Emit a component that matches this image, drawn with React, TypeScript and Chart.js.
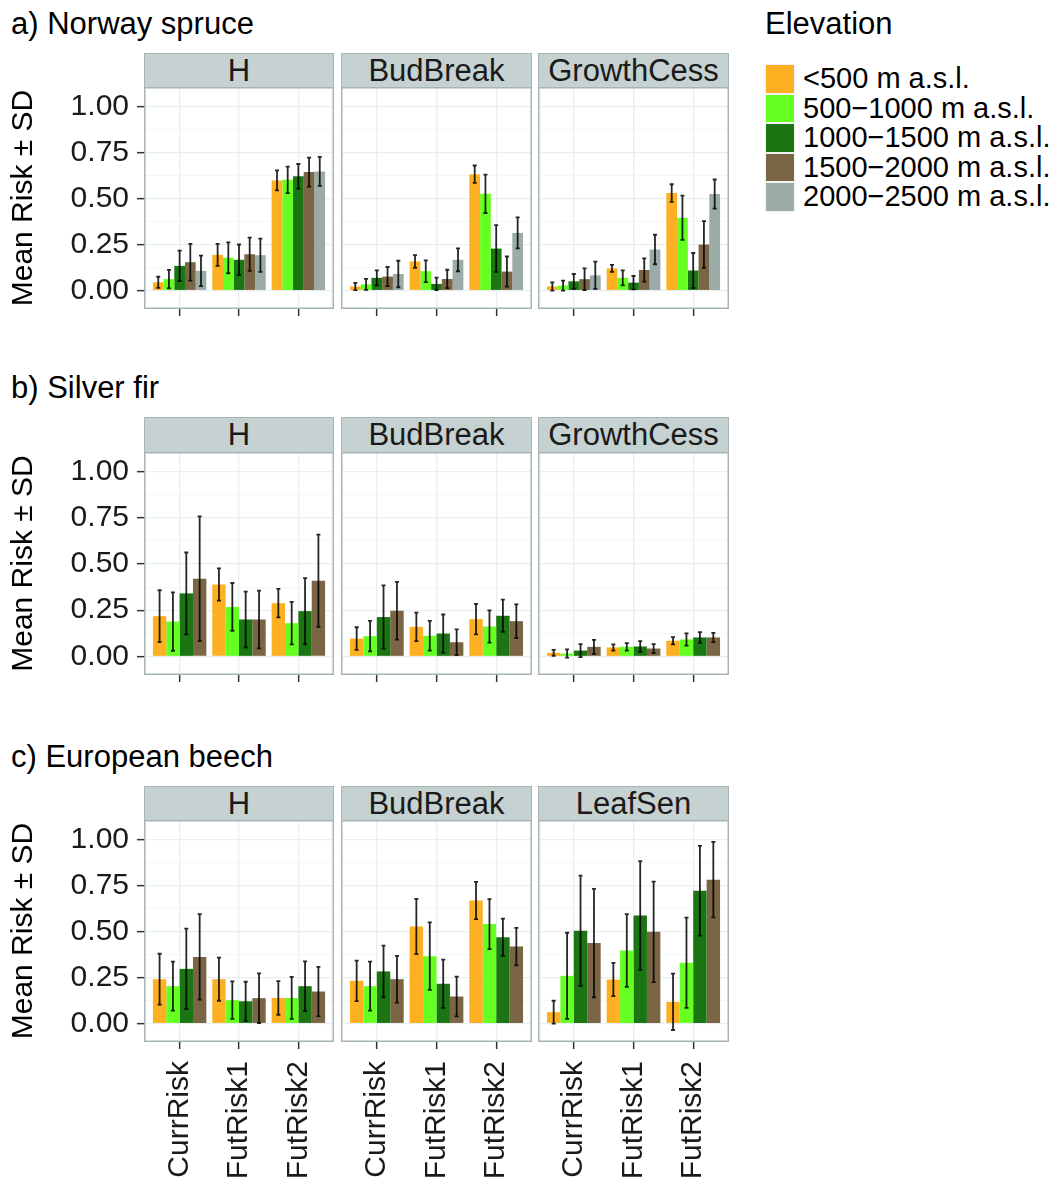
import React, { useEffect, useRef } from 'react';
import { Chart, registerables } from 'chart.js';

Chart.register(...registerables);

// ---------- data ----------
const periods = ['CurrRisk', 'FutRisk1', 'FutRisk2'];
const elevations = ['<500 m a.s.l.', '500\u22121000 m a.s.l.', '1000\u22121500 m a.s.l.', '1500\u22122000 m a.s.l.', '2000\u22122500 m a.s.l.'];
const elevationColors = ['#FDB022', '#66FF22', '#1A7512', '#7A6645', '#9AABA8'];
const yTickValues = [0, 0.125, 0.25, 0.375, 0.5, 0.625, 0.75, 0.875, 1];
const xTickValues = [1, 2, 3];

// rows = elevation class, columns = period (CurrRisk, FutRisk1, FutRisk2)
const spruceH_mean = [
  [0.045, 0.194, 0.598],
  [0.062, 0.178, 0.601],
  [0.134, 0.167, 0.620],
  [0.154, 0.197, 0.643],
  [0.107, 0.192, 0.647],
];
const spruceH_sd = [
  [0.030, 0.060, 0.054],
  [0.050, 0.084, 0.072],
  [0.083, 0.083, 0.067],
  [0.100, 0.090, 0.079],
  [0.083, 0.090, 0.079],
];
const spruceBud_mean = [
  [0.022, 0.158, 0.632],
  [0.034, 0.105, 0.525],
  [0.069, 0.036, 0.228],
  [0.076, 0.063, 0.103],
  [0.090, 0.167, 0.313],
];
const spruceBud_sd = [
  [0.020, 0.034, 0.047],
  [0.030, 0.059, 0.104],
  [0.041, 0.034, 0.127],
  [0.052, 0.050, 0.082],
  [0.072, 0.062, 0.084],
];
const spruceGC_mean = [
  [0.022, 0.120, 0.529],
  [0.027, 0.069, 0.395],
  [0.050, 0.043, 0.109],
  [0.062, 0.112, 0.250],
  [0.083, 0.223, 0.524],
];
const spruceGC_sd = [
  [0.022, 0.019, 0.048],
  [0.027, 0.041, 0.120],
  [0.040, 0.036, 0.095],
  [0.059, 0.063, 0.127],
  [0.074, 0.080, 0.079],
];
const firH_mean = [
  [0.218, 0.389, 0.288],
  [0.189, 0.268, 0.180],
  [0.341, 0.200, 0.245],
  [0.420, 0.200, 0.409],
];
const firH_sd = [
  [0.140, 0.087, 0.077],
  [0.158, 0.129, 0.115],
  [0.221, 0.151, 0.179],
  [0.337, 0.156, 0.249],
];
const firBud_mean = [
  [0.097, 0.160, 0.202],
  [0.110, 0.112, 0.162],
  [0.213, 0.124, 0.220],
  [0.247, 0.077, 0.191],
];
const firBud_sd = [
  [0.061, 0.077, 0.082],
  [0.082, 0.080, 0.087],
  [0.171, 0.103, 0.087],
  [0.156, 0.070, 0.091],
];
const firGC_mean = [
  [0.020, 0.049, 0.085],
  [0.016, 0.052, 0.092],
  [0.032, 0.054, 0.103],
  [0.052, 0.043, 0.103],
];
const firGC_sd = [
  [0.016, 0.017, 0.020],
  [0.022, 0.020, 0.033],
  [0.035, 0.029, 0.029],
  [0.038, 0.024, 0.025],
];
const beechH_mean = [
  [0.241, 0.241, 0.139],
  [0.203, 0.127, 0.139],
  [0.297, 0.121, 0.203],
  [0.362, 0.138, 0.174],
];
const beechH_sd = [
  [0.138, 0.117, 0.091],
  [0.133, 0.102, 0.114],
  [0.218, 0.106, 0.135],
  [0.232, 0.135, 0.134],
];
const beechBud_mean = [
  [0.232, 0.527, 0.668],
  [0.203, 0.366, 0.540],
  [0.283, 0.216, 0.469],
  [0.241, 0.147, 0.418],
];
const beechBud_sd = [
  [0.110, 0.150, 0.101],
  [0.133, 0.183, 0.136],
  [0.140, 0.131, 0.101],
  [0.127, 0.108, 0.102],
];
const beechLS_mean = [
  [0.062, 0.239, 0.118],
  [0.259, 0.397, 0.330],
  [0.504, 0.587, 0.721],
  [0.437, 0.498, 0.781],
];
const beechLS_sd = [
  [0.062, 0.090, 0.153],
  [0.234, 0.197, 0.245],
  [0.299, 0.295, 0.244],
  [0.294, 0.273, 0.205],
];

// ---------- layout / style ----------
const FONT = '"Liberation Sans", Arial, Helvetica, sans-serif';
const Y_MIN = -0.1;
const Y_MAX = 1.105;
const X_MIN = 0.4;
const X_MAX = 3.6;
const GRID_MAJOR = '#E9EEEE';
const GRID_MINOR = '#F3F6F6';
const BORDER = '#A6B4B4';
const STRIP_BG = '#C6D1D1';
const colLefts = [144, 341, 538];
const colWidths = [190, 191, 191];

const rows = [
  { title: 'a) Norway spruce', titleTop: 8, stripTop: 53, plotTop: 87, plotBottom: 309, xAxisH: 12, xLabels: false,
    panels: [
      { strip: 'H', mean: spruceH_mean, sd: spruceH_sd },
      { strip: 'BudBreak', mean: spruceBud_mean, sd: spruceBud_sd },
      { strip: 'GrowthCess', mean: spruceGC_mean, sd: spruceGC_sd },
    ] },
  { title: 'b) Silver fir', titleTop: 372, stripTop: 417, plotTop: 452, plotBottom: 675, xAxisH: 12, xLabels: false,
    panels: [
      { strip: 'H', mean: firH_mean, sd: firH_sd },
      { strip: 'BudBreak', mean: firBud_mean, sd: firBud_sd },
      { strip: 'GrowthCess', mean: firGC_mean, sd: firGC_sd },
    ] },
  { title: 'c) European beech', titleTop: 741, stripTop: 786, plotTop: 820, plotBottom: 1042, xAxisH: 143, xLabels: true,
    panels: [
      { strip: 'H', mean: beechH_mean, sd: beechH_sd },
      { strip: 'BudBreak', mean: beechBud_mean, sd: beechBud_sd },
      { strip: 'LeafSen', mean: beechLS_mean, sd: beechLS_sd },
    ] },
];

const isMajor = (v: number) => Math.round(v * 8) % 2 === 0;

const errorBarPlugin = {
  id: 'errorBars',
  afterDatasetsDraw(chart: any) {
    const { ctx } = chart;
    const yScale = chart.scales.y;
    ctx.save();
    ctx.strokeStyle = 'rgba(0,0,0,0.85)';
    ctx.lineWidth = 1.8;
    chart.data.datasets.forEach((ds: any, i: number) => {
      const meta = chart.getDatasetMeta(i);
      meta.data.forEach((bar: any, j: number) => {
        const m = ds.data[j].y;
        const s = ds.sd[j];
        const y1 = yScale.getPixelForValue(m - s);
        const y2 = yScale.getPixelForValue(m + s);
        const x = bar.x;
        ctx.beginPath();
        ctx.moveTo(x, y1);
        ctx.lineTo(x, y2);
        ctx.moveTo(x - 2, y1);
        ctx.lineTo(x + 2, y1);
        ctx.moveTo(x - 2, y2);
        ctx.lineTo(x + 2, y2);
        ctx.stroke();
      });
    });
    ctx.restore();
  },
};

const borderPlugin = {
  id: 'panelBorder',
  afterDraw(chart: any) {
    const { ctx, chartArea } = chart;
    ctx.save();
    ctx.strokeStyle = BORDER;
    ctx.lineWidth = 1.5;
    ctx.strokeRect(chartArea.left + 0.75, chartArea.top + 0.75, chartArea.width - 1.5, chartArea.height - 1.5);
    ctx.restore();
  },
};

type PanelProps = {
  left: number; top: number; width: number; height: number;
  yAxisW: number; xAxisH: number; showY: boolean; showXLabels: boolean;
  mean: number[][]; sd: number[][];
};

function Panel(p: PanelProps) {
  const ref = useRef<HTMLCanvasElement>(null);
  useEffect(() => {
    if (!ref.current) return;
    const datasets = p.mean.map((m, i) => ({
      label: elevations[i],
      data: m.map((v, j) => ({ x: xTickValues[j], y: v })),
      sd: p.sd[i],
      backgroundColor: elevationColors[i],
      borderWidth: 0,
      categoryPercentage: 0.9,
      barPercentage: 1,
    }));
    const chart = new Chart(ref.current, {
      type: 'bar',
      data: { datasets } as any,
      plugins: [errorBarPlugin, borderPlugin],
      options: {
        responsive: false,
        animation: false,
        layout: { padding: 0, autoPadding: false },
        plugins: { legend: { display: false }, tooltip: { enabled: false } },
        scales: {
          x: {
            type: 'linear',
            min: X_MIN,
            max: X_MAX,
            offset: false,
            afterBuildTicks: (a: any) => { a.ticks = xTickValues.map((v) => ({ value: v })); },
            afterFit: (s: any) => { s.height = p.xAxisH; s.paddingLeft = 0; s.paddingRight = 0; },
            grid: { offset: false, color: GRID_MAJOR, lineWidth: 1.3, drawTicks: true, tickLength: 7, tickColor: '#333333', tickWidth: 1.5 },
            border: { display: false },
            ticks: {
              autoSkip: false,
              minRotation: 90,
              maxRotation: 90,
              padding: 12,
              color: '#1a1a1a',
              font: { family: FONT, size: 30 },
              callback: (v: any) => (p.showXLabels ? periods[Math.round(Number(v)) - 1] : ''),
            },
          },
          y: {
            type: 'linear',
            min: Y_MIN,
            max: Y_MAX,
            afterBuildTicks: (a: any) => { a.ticks = yTickValues.map((v) => ({ value: v })); },
            afterFit: (s: any) => { s.width = p.yAxisW; s.paddingTop = 0; s.paddingBottom = 0; },
            grid: {
              color: (c: any) => (isMajor(c.tick.value) ? GRID_MAJOR : GRID_MINOR),
              lineWidth: (c: any) => (isMajor(c.tick.value) ? 1.3 : 0.9),
              drawTicks: p.showY,
              tickLength: 7,
              tickColor: (c: any) => (isMajor(c.tick.value) ? '#333333' : 'rgba(0,0,0,0)'),
              tickWidth: 1.5,
            },
            border: { display: false },
            ticks: {
              display: p.showY,
              autoSkip: false,
              padding: 8,
              color: '#1a1a1a',
              font: { family: FONT, size: 30 },
              callback: (v: any) => (isMajor(Number(v)) ? Number(v).toFixed(2) : ''),
            },
            title: {
              display: p.showY,
              text: 'Mean Risk \u00B1 SD',
              color: '#000000',
              font: { family: FONT, size: 30 },
              padding: { top: 6, bottom: 0 },
            },
          },
        },
      } as any,
    });
    return () => chart.destroy();
  }, []);
  return (
    <canvas
      ref={ref}
      width={p.width + p.yAxisW}
      height={p.height + p.xAxisH}
      style={{ position: 'absolute', left: p.left - p.yAxisW, top: p.top, width: p.width + p.yAxisW, height: p.height + p.xAxisH }}
    />
  );
}

export default function App() {
  return (
    <div style={{ position: 'absolute', left: 0, top: 0, width: 1060, height: 1185, background: '#ffffff', fontFamily: FONT, overflow: 'hidden' }}>
      {rows.map((r, ri) => (
        <React.Fragment key={ri}>
          <div style={{ position: 'absolute', left: 11, top: r.titleTop, fontSize: 31, lineHeight: '31px', color: '#000', whiteSpace: 'nowrap' }}>{r.title}</div>
          {r.panels.map((pn, ci) => (
            <React.Fragment key={ci}>
              <div style={{
                position: 'absolute', left: colLefts[ci], top: r.stripTop, width: colWidths[ci], height: r.plotTop - r.stripTop + 1,
                boxSizing: 'border-box', background: STRIP_BG, border: `1.5px solid ${BORDER}`,
                fontSize: 31, lineHeight: `${r.plotTop - r.stripTop - 1}px`, textAlign: 'center', color: '#1a1a1a', whiteSpace: 'nowrap',
              }}>{pn.strip}</div>
              <Panel
                left={colLefts[ci]}
                top={r.plotTop}
                width={colWidths[ci]}
                height={r.plotBottom - r.plotTop}
                yAxisW={ci === 0 ? colLefts[0] : 0}
                xAxisH={r.xAxisH}
                showY={ci === 0}
                showXLabels={r.xLabels}
                mean={pn.mean}
                sd={pn.sd}
              />
            </React.Fragment>
          ))}
        </React.Fragment>
      ))}
      <div style={{ position: 'absolute', left: 765, top: 8, fontSize: 31, lineHeight: '31px', color: '#000' }}>Elevation</div>
      {elevations.map((e, i) => (
        <React.Fragment key={e}>
          <div style={{ position: 'absolute', left: 765, top: 64 + i * 29.6, width: 30, height: 29.6, background: elevationColors[i], boxSizing: 'border-box', border: '0.5px solid #f2f2f2' }} />
          <div style={{ position: 'absolute', left: 803, top: 64 + i * 29.6, height: 29.6, lineHeight: '29.6px', fontSize: 29, color: '#000', whiteSpace: 'nowrap' }}>{e}</div>
        </React.Fragment>
      ))}
    </div>
  );
}
